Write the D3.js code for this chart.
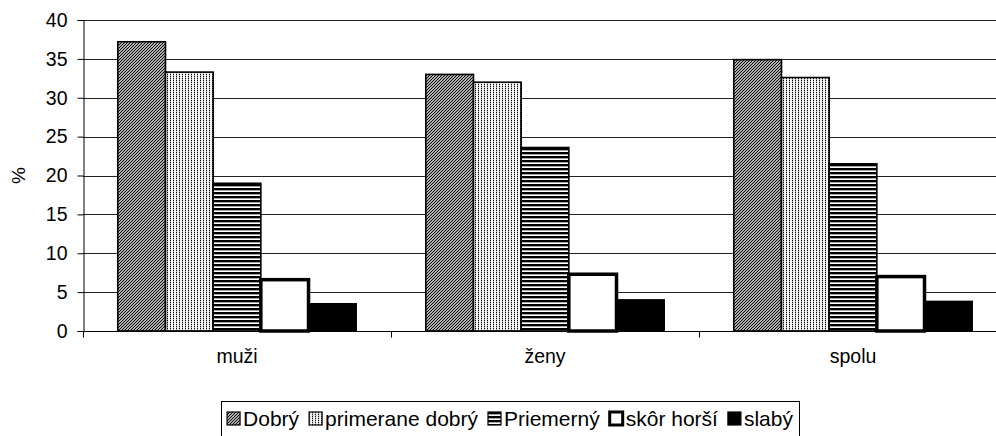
<!DOCTYPE html>
<html>
<head>
<meta charset="utf-8">
<script src="https://cdn.jsdelivr.net/npm/d3@7"></script>
<style>
  html, body { margin: 0; padding: 0; background: #fff; }
  svg { display: block; font-family: "Liberation Sans", Arial, sans-serif; }
</style>
</head>
<body>
<svg id="chart" width="996" height="436"></svg>
<script>
// Categories, series and values (percent)
const categories = ["muži", "ženy", "spolu"];
const seriesNames = ["Dobrý", "primerane dobrý", "Priemerný", "skôr horší", "slabý"];
const dobry = [37.2, 33.0, 34.9];
const primeraneDobry = [33.3, 32.0, 32.6];
const priemerny = [19.0, 23.6, 21.5];
const skorHorsi = [6.6, 7.3, 7.0];
const slaby = [3.5, 4.0, 3.8];
const yTicks = [0, 5, 10, 15, 20, 25, 30, 35, 40];
const yLabel = "%";

const seriesValues = [dobry, primeraneDobry, priemerny, skorHorsi, slaby];

const svg = d3.select("#chart");
const defs = svg.append("defs");

// Fill patterns for the monochrome series
const pDiag = defs.append("pattern").attr("id", "pat-diag")
  .attr("patternUnits", "userSpaceOnUse").attr("width", 3).attr("height", 3);
pDiag.append("rect").attr("width", 3).attr("height", 3).attr("fill", "#fff");
pDiag.append("path").attr("d", "M-1,1 L1,-1 M0,3 L3,0 M2,4 L4,2")
  .attr("stroke", "#000").attr("stroke-width", 1.2);

const pDots = defs.append("pattern").attr("id", "pat-dots")
  .attr("patternUnits", "userSpaceOnUse").attr("width", 3).attr("height", 2);
pDots.append("rect").attr("width", 3).attr("height", 2).attr("fill", "#fff");
pDots.append("rect").attr("x", 0).attr("y", 0).attr("width", 1).attr("height", 1).attr("fill", "#000");
pDots.append("rect").attr("x", 0).attr("y", 1).attr("width", 1).attr("height", 1).attr("fill", "#b0b0b0");
pDots.append("rect").attr("x", 1.5).attr("y", 0).attr("width", 1).attr("height", 2).attr("fill", "#ececec");

const pHoriz = defs.append("pattern").attr("id", "pat-horiz")
  .attr("patternUnits", "userSpaceOnUse").attr("width", 4).attr("height", 4);
pHoriz.append("rect").attr("width", 4).attr("height", 4).attr("fill", "#fff");
pHoriz.append("rect").attr("y", 0).attr("width", 4).attr("height", 2).attr("fill", "#000");
pHoriz.append("rect").attr("y", 2).attr("width", 4).attr("height", 1).attr("fill", "#a8a8a8");

const fills = ["url(#pat-diag)", "url(#pat-dots)", "url(#pat-horiz)", "#fff", "#000"];
const strokeW = [1.6, 1.6, 1.6, 3.5, 1.6];

// Plot area
const plot = { left: 83, top: 20, bottom: 331, right: 1007 };

const x0 = d3.scaleBand().domain(categories).range([plot.left, plot.right]).paddingInner(0).paddingOuter(0);
const groupPad = 0.113;
const x1 = d3.scaleBand().domain(seriesNames)
  .range([x0.bandwidth() * groupPad, x0.bandwidth() * (1 - groupPad)]).padding(0);
const y = d3.scaleLinear().domain([0, 40]).range([plot.bottom, plot.top]);

// Gridlines
svg.append("g").selectAll("line").data(yTicks.filter(d => d > 0)).join("line")
  .attr("x1", plot.left).attr("x2", plot.right)
  .attr("y1", d => Math.round(y(d)) + 0.5).attr("y2", d => Math.round(y(d)) + 0.5)
  .attr("stroke", "#222").attr("stroke-width", 1);

// Bars
const groups = svg.append("g").selectAll("g").data(categories).join("g")
  .attr("transform", c => `translate(${x0(c)},0)`);
groups.selectAll("rect")
  .data((c, ci) => seriesNames.map((s, si) => ({ s, si, v: seriesValues[si][ci] })))
  .join("rect")
  .attr("x", d => x1(d.s))
  .attr("width", x1.bandwidth())
  .attr("y", d => y(d.v))
  .attr("height", d => y(0) - y(d.v))
  .attr("fill", d => fills[d.si])
  .attr("stroke", "#000")
  .attr("stroke-width", d => strokeW[d.si]);

// Y axis
const yAxis = d3.axisLeft(y).tickValues(yTicks).tickSize(6).tickPadding(10).tickFormat(d3.format("d"));
const gy = svg.append("g").attr("transform", `translate(${plot.left + 0.5},0)`).call(yAxis);
gy.select(".domain").attr("stroke", "#000");
gy.selectAll(".tick line").attr("stroke", "#000");
gy.selectAll(".tick text").attr("font-size", 19.5).attr("fill", "#000")
  .attr("font-family", "Liberation Sans, Arial, sans-serif");

// X axis with tick marks at category boundaries
const gx = svg.append("g").attr("transform", `translate(0,${plot.bottom + 0.5})`);
gx.append("line").attr("x1", plot.left).attr("x2", plot.right)
  .attr("stroke", "#000");
const boundaries = categories.map(c => x0(c)).concat([plot.right]);
gx.selectAll("line.tk").data(boundaries).join("line").attr("class", "tk")
  .attr("x1", d => Math.round(d) + 0.5).attr("x2", d => Math.round(d) + 0.5)
  .attr("y1", 0).attr("y2", 6).attr("stroke", "#000");
gx.selectAll("text").data(categories).join("text")
  .attr("x", c => x0(c) + x0.bandwidth() / 2)
  .attr("y", 31)
  .attr("text-anchor", "middle")
  .attr("font-size", 19.5)
  .text(c => c);

// Y axis title
svg.append("text")
  .attr("transform", `translate(25,${(plot.top + plot.bottom) / 2}) rotate(-90)`)
  .attr("text-anchor", "middle")
  .attr("font-size", 19)
  .text(yLabel);

// Legend
const legend = svg.append("g");
const legendFont = 21;
const sw = 13, swGap = 3, itemGap = 10;
const items = legend.selectAll("g").data(seriesNames).join("g");
items.append("rect")
  .attr("width", sw).attr("height", sw)
  .attr("fill", (d, i) => fills[i])
  .attr("stroke", "#000")
  .attr("stroke-width", (d, i) => i === 3 ? 3 : 1.2);
items.append("text")
  .attr("x", sw + swGap)
  .attr("y", sw / 2)
  .attr("dy", "0.36em")
  .attr("font-size", legendFont)
  .text(d => d);
let cx = 0;
items.each(function () {
  const g = d3.select(this);
  const w = sw + swGap + g.select("text").node().getComputedTextLength();
  g.attr("transform", `translate(${cx},0)`);
  cx += w + itemGap;
});
const legendW = cx - itemGap;
const legendX = 510 - legendW / 2;
const legendTop = 401;
legend.attr("transform", `translate(${legendX},${legendTop + 11})`);
svg.insert("rect", "g")
  .attr("x", Math.round(legendX - 6) + 0.5).attr("y", legendTop + 0.5)
  .attr("width", Math.round(legendW + 12)).attr("height", 36)
  .attr("fill", "#fff").attr("stroke", "#000");
</script>
</body>
</html>
